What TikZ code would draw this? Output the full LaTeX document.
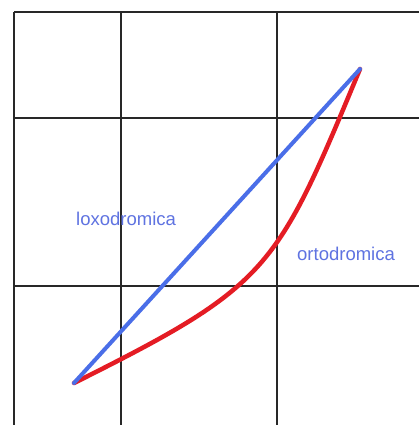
\documentclass[tikz,border=0pt]{standalone}
\usepackage{fontspec}
\setmainfont{Liberation Sans}
\definecolor{gridc}{RGB}{40,40,40}
\definecolor{loxo}{RGB}{74,110,232}
\definecolor{orto}{RGB}{228,28,36}
\definecolor{lbl}{RGB}{95,115,225}
\begin{document}
\begin{tikzpicture}[x=1pt,y=-1pt,
  gridline/.style={gridc,line width=1.2pt},
  loxoline/.style={loxo,line width=4pt,line cap=round},
  ortoline/.style={orto,line width=4.5pt,line cap=round},
  lab/.style={lbl,font=\fontsize{18.5}{21}\selectfont,inner sep=0pt}]
\useasboundingbox[fill=white] (0,0) rectangle (419,425);
% grid
\draw[gridline] (14,12) -- (419,12);
\draw[gridline] (14,118) -- (419,118);
\draw[gridline] (14,286) -- (419,286);
\draw[gridline] (14,12) -- (14,425);
\draw[gridline] (121,12) -- (121,425);
\draw[gridline] (277,12) -- (277,425);
% end points
\coordinate (A) at (74,383);
\coordinate (B) at (360,69);
% orthodromic (red) curve
\draw[ortoline] (A) .. controls (270,285) and (276,271) .. (B);
% loxodromic (blue) line
\draw[loxoline] (A) -- (B);
% labels
\node[lab,anchor=west] (lx) at (76,219) {loxodromica};
\node[lab,anchor=west] (ot) at (297,254) {ortodromica};
\end{tikzpicture}
\end{document}
